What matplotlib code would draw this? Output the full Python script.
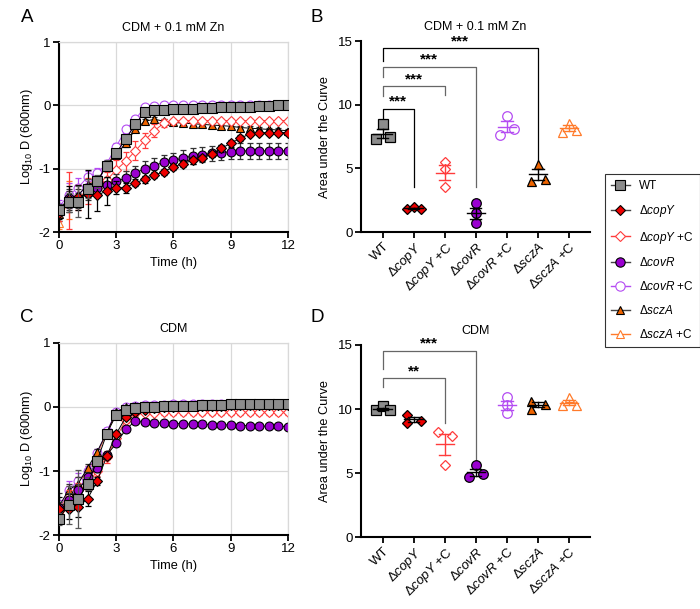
import numpy as np
import matplotlib
matplotlib.use('Agg')
import matplotlib.pyplot as plt
from matplotlib.lines import Line2D

plt.rcParams['font.family'] = 'Liberation Sans'
plt.rcParams['mathtext.fontset'] = 'custom'
plt.rcParams['mathtext.rm'] = 'Liberation Sans'
plt.rcParams['mathtext.it'] = 'Liberation Sans:italic'
plt.rcParams['axes.unicode_minus'] = False

# ---- data ----
time = np.arange(0, 12.5, 0.5)

strains = ['WT', 'copY', 'copY+C', 'covR', 'covR+C', 'sczA', 'sczA+C']
labels = ['WT', r'$\Delta\mathit{copY}$', r'$\Delta\mathit{copY}$ +C', r'$\Delta\mathit{covR}$',
          r'$\Delta\mathit{covR}$ +C', r'$\Delta\mathit{sczA}$', r'$\Delta\mathit{sczA}$ +C']

# Panel A: CDM + 0.1 mM Zn (log10 OD600)
zn_wt = [-1.65, -1.53, -1.52, -1.32, -1.2, -0.95, -0.75, -0.53, -0.3, -0.1, -0.08, -0.07, -0.06,
         -0.05, -0.05, -0.04, -0.04, -0.03, -0.03, -0.02, -0.02, -0.01, -0.01, 0.0, 0.0]
zn_copy = [-1.7, -1.48, -1.45, -1.4, -1.42, -1.35, -1.3, -1.3, -1.22, -1.17, -1.1, -1.05, -0.97,
           -0.92, -0.87, -0.83, -0.77, -0.68, -0.6, -0.52, -0.45, -0.43, -0.43, -0.43, -0.43]
zn_copyc = [-1.7, -1.5, -1.45, -1.35, -1.3, -1.18, -1.02, -0.88, -0.72, -0.55, -0.4, -0.28, -0.25,
            -0.24, -0.24, -0.24, -0.24, -0.24, -0.24, -0.24, -0.24, -0.24, -0.24, -0.24, -0.24]
zn_covr = [-1.65, -1.47, -1.5, -1.38, -1.3, -1.25, -1.2, -1.15, -1.07, -1.0, -0.95, -0.9, -0.87,
           -0.83, -0.8, -0.78, -0.76, -0.75, -0.73, -0.72, -0.72, -0.72, -0.72, -0.72, -0.72]
zn_covrc = [-1.6, -1.42, -1.3, -1.13, -1.07, -0.92, -0.65, -0.38, -0.22, -0.03, -0.01, 0.0, 0.0,
            0.0, 0.0, 0.0, 0.0, 0.0, 0.0, 0.0, 0.0, 0.0, 0.0, 0.0, 0.0]
zn_scza = [-1.72, -1.5, -1.42, -1.25, -1.2, -0.95, -0.78, -0.6, -0.38, -0.25, -0.22, -0.25, -0.27,
           -0.28, -0.29, -0.3, -0.31, -0.32, -0.33, -0.35, -0.36, -0.37, -0.38, -0.39, -0.4]
zn_sczac = [-1.85, -1.5, -1.4, -1.25, -1.15, -0.95, -0.72, -0.48, -0.28, -0.08, -0.07, -0.06, -0.05,
            -0.05, -0.04, -0.04, -0.03, -0.03, -0.02, -0.02, -0.01, -0.01, 0.0, 0.0, 0.0]

zn_wt_err = [0.08, 0.15, 0.25, 0.15, 0.1, 0.08, 0.06, 0.05, 0.04, 0.03, 0.03, 0.02, 0.02,
             0.02, 0.02, 0.02, 0.02, 0.02, 0.02, 0.02, 0.02, 0.02, 0.02, 0.02, 0.02]
zn_copy_err = [0.1, 0.2, 0.2, 0.38, 0.25, 0.22, 0.1, 0.08, 0.06, 0.05, 0.05, 0.05, 0.05,
               0.05, 0.05, 0.05, 0.05, 0.05, 0.05, 0.05, 0.04, 0.04, 0.04, 0.04, 0.04]
zn_copyc_err = [0.12, 0.45, 0.2, 0.2, 0.15, 0.12, 0.15, 0.15, 0.15, 0.12, 0.1, 0.06, 0.03,
                0.02, 0.02, 0.02, 0.02, 0.02, 0.02, 0.02, 0.02, 0.02, 0.02, 0.02, 0.02]
zn_covr_err = [0.1, 0.15, 0.12, 0.12, 0.12, 0.12, 0.12, 0.12, 0.12, 0.12, 0.12, 0.12, 0.12,
               0.12, 0.12, 0.12, 0.12, 0.12, 0.12, 0.12, 0.12, 0.12, 0.12, 0.12, 0.12]
zn_covrc_err = [0.1, 0.2, 0.15, 0.1, 0.08, 0.06, 0.05, 0.05, 0.03, 0.02, 0.02, 0.02, 0.02,
                0.02, 0.02, 0.02, 0.02, 0.02, 0.02, 0.02, 0.02, 0.02, 0.02, 0.02, 0.02]
zn_scza_err = [0.1, 0.15, 0.1, 0.08, 0.06, 0.05, 0.05, 0.05, 0.04, 0.03, 0.03, 0.03, 0.03,
               0.03, 0.03, 0.03, 0.03, 0.03, 0.03, 0.03, 0.03, 0.03, 0.03, 0.03, 0.03]
zn_sczac_err = [0.1, 0.3, 0.15, 0.1, 0.08, 0.06, 0.05, 0.05, 0.04, 0.03, 0.02, 0.02, 0.02,
                0.02, 0.02, 0.02, 0.02, 0.02, 0.02, 0.02, 0.02, 0.02, 0.02, 0.02, 0.02]

# Panel C: CDM (log10 OD600)
cdm_wt = [-1.75, -1.53, -1.44, -1.2, -0.84, -0.42, -0.12, -0.04, -0.02, 0.0, 0.0, 0.01, 0.02,
          0.02, 0.02, 0.03, 0.03, 0.03, 0.04, 0.04, 0.04, 0.04, 0.05, 0.05, 0.05]
cdm_copy = [-1.6, -1.6, -1.57, -1.43, -1.16, -0.77, -0.42, -0.16, -0.08, -0.05, -0.02, 0.0, 0.0,
            0.01, 0.01, 0.02, 0.02, 0.02, 0.03, 0.03, 0.03, 0.03, 0.03, 0.03, 0.03]
cdm_copyc = [-1.62, -1.45, -1.3, -1.2, -1.0, -0.78, -0.48, -0.2, -0.1, -0.09, -0.09, -0.08, -0.08,
             -0.08, -0.08, -0.08, -0.08, -0.08, -0.08, -0.08, -0.08, -0.08, -0.08, -0.08, -0.08]
cdm_covr = [-1.58, -1.45, -1.3, -1.1, -0.95, -0.75, -0.57, -0.35, -0.22, -0.24, -0.25, -0.25, -0.26,
            -0.26, -0.27, -0.27, -0.28, -0.28, -0.28, -0.29, -0.29, -0.3, -0.3, -0.3, -0.31]
cdm_covrc = [-1.6, -1.3, -1.15, -1.0, -0.72, -0.38, -0.08, 0.0, 0.02, 0.03, 0.03, 0.03, 0.04,
             0.04, 0.04, 0.04, 0.04, 0.04, 0.04, 0.04, 0.04, 0.04, 0.04, 0.04, 0.04]
cdm_scza = [-1.55, -1.3, -1.2, -0.95, -0.7, -0.4, -0.08, 0.0, 0.01, 0.02, 0.02, 0.03, 0.03,
            0.03, 0.03, 0.04, 0.04, 0.04, 0.04, 0.04, 0.04, 0.04, 0.04, 0.04, 0.04]
cdm_sczac = [-1.6, -1.35, -1.2, -1.0, -0.75, -0.4, -0.1, -0.02, 0.0, 0.01, 0.02, 0.02, 0.03,
             0.03, 0.03, 0.03, 0.04, 0.04, 0.04, 0.04, 0.04, 0.04, 0.04, 0.04, 0.04]

cdm_wt_err = [0.1, 0.3, 0.45, 0.1, 0.05, 0.04, 0.03, 0.02, 0.02, 0.02, 0.02, 0.02, 0.02,
              0.02, 0.02, 0.02, 0.02, 0.02, 0.02, 0.02, 0.02, 0.02, 0.02, 0.02, 0.02]
cdm_copy_err = [0.2, 0.15, 0.15, 0.12, 0.06, 0.05, 0.04, 0.03, 0.02, 0.02, 0.02, 0.02, 0.02,
                0.02, 0.02, 0.02, 0.02, 0.02, 0.02, 0.02, 0.02, 0.02, 0.02, 0.02, 0.02]
cdm_copyc_err = [0.1, 0.15, 0.12, 0.1, 0.08, 0.1, 0.08, 0.05, 0.04, 0.04, 0.04, 0.04, 0.04,
                 0.04, 0.04, 0.04, 0.04, 0.04, 0.04, 0.04, 0.04, 0.04, 0.04, 0.05, 0.05]
cdm_covr_err = [0.1, 0.1, 0.1, 0.08, 0.06, 0.05, 0.04, 0.03, 0.02, 0.02, 0.02, 0.02, 0.02,
                0.02, 0.02, 0.02, 0.02, 0.02, 0.02, 0.02, 0.02, 0.02, 0.02, 0.02, 0.02]
cdm_covrc_err = [0.15, 0.15, 0.12, 0.08, 0.06, 0.05, 0.03, 0.02, 0.02, 0.02, 0.02, 0.02, 0.02,
                 0.02, 0.02, 0.02, 0.02, 0.02, 0.02, 0.02, 0.02, 0.02, 0.02, 0.02, 0.02]
cdm_scza_err = [0.2, 0.1, 0.1, 0.06, 0.05, 0.04, 0.03, 0.02, 0.02, 0.02, 0.02, 0.02, 0.02,
                0.02, 0.02, 0.02, 0.02, 0.02, 0.02, 0.02, 0.02, 0.02, 0.02, 0.02, 0.02]
cdm_sczac_err = [0.1, 0.12, 0.1, 0.08, 0.05, 0.04, 0.03, 0.02, 0.02, 0.02, 0.02, 0.02, 0.02,
                 0.02, 0.02, 0.02, 0.02, 0.02, 0.02, 0.02, 0.02, 0.02, 0.02, 0.02, 0.02]

# Panel B: AUC, CDM + 0.1 mM Zn (3 replicates)
auc_zn = [[7.28, 8.48, 7.44], [1.78, 1.99, 1.78], [5.52, 4.92, 3.51], [2.25, 1.47, 0.68],
          [7.62, 9.11, 8.07], [4.03, 5.34, 4.19], [7.83, 8.59, 8.01]]
# Panel D: AUC, CDM
auc_cdm = [[9.9, 10.2, 9.9], [9.55, 8.9, 9.1], [8.2, 5.65, 7.9], [4.7, 5.6, 4.9],
           [10.9, 10.3, 9.7], [10.6, 10.0, 10.4], [10.3, 10.9, 10.3]]

# significance: (target index, bracket height, WT leg bottom, target leg bottom, label)
sig_zn = [(1, 9.69, 8.85, 3.5, '***'), (2, 11.44, 10.7, 10.8, '***'),
          (3, 12.99, 12.2, 3.5, '***'), (5, 14.43, 13.4, 5.4, '***')]
sig_cdm = [(2, 12.4, 11.7, 8.9, '**'), (3, 14.55, 13.1, 6.05, '***')]

# ---- styles ----
GRAY = '#8c8c8c'
RED = '#ee0000'
RED_L = '#ff3b3b'
PURPLE = '#9a00d0'
PURPLE_L = '#b44cf2'
ORANGE = '#f06400'
ORANGE_L = '#ff7a2a'

styles = [
    dict(marker='s', mfc=GRAY, mec='black', lc='black', ec='#555555'),
    dict(marker='D', mfc=RED, mec='black', lc='black', ec='black'),
    dict(marker='D', mfc='white', mec=RED_L, lc=RED_L, ec=RED_L),
    dict(marker='o', mfc=PURPLE, mec='black', lc='black', ec='#333333'),
    dict(marker='o', mfc='white', mec=PURPLE_L, lc=PURPLE_L, ec=PURPLE_L),
    dict(marker='^', mfc=ORANGE, mec='black', lc='black', ec='#333333'),
    dict(marker='^', mfc='white', mec=ORANGE_L, lc=ORANGE_L, ec=ORANGE_L),
]
msize = {'s': 6.5, 'D': 4.7, 'o': 6.4, '^': 6.0}
mean_err = ['black', 'black', RED_L, 'black', PURPLE_L, 'black', ORANGE_L]

fig = plt.figure(figsize=(7, 6.09), dpi=100)
axA = fig.add_axes([0.0843, 0.619, 0.327, 0.312])
axB = fig.add_axes([0.5157, 0.619, 0.327, 0.3136])
axC = fig.add_axes([0.0843, 0.1215, 0.327, 0.3153])
axD = fig.add_axes([0.5157, 0.1182, 0.327, 0.3153])

zn_series = [zn_wt, zn_copy, zn_copyc, zn_covr, zn_covrc, zn_scza, zn_sczac]
zn_errs = [zn_wt_err, zn_copy_err, zn_copyc_err, zn_covr_err, zn_covrc_err, zn_scza_err, zn_sczac_err]
cdm_series = [cdm_wt, cdm_copy, cdm_copyc, cdm_covr, cdm_covrc, cdm_scza, cdm_sczac]
cdm_errs = [cdm_wt_err, cdm_copy_err, cdm_copyc_err, cdm_covr_err, cdm_covrc_err, cdm_scza_err, cdm_sczac_err]

draw_order = [6, 4, 5, 2, 3, 1, 0]
FS = 9.2


def growth_panel(ax, series, errs, title):
    for k, i in enumerate(draw_order):
        st = styles[i]
        ax.errorbar(time, series[i], yerr=errs[i], fmt='none', ecolor=st['ec'],
                    elinewidth=0.9, capsize=2.2, capthick=0.9, zorder=2 + k * 0.1)
        ax.plot(time, series[i], color=st['lc'], lw=0.7, marker=st['marker'],
                ms=msize[st['marker']], mfc=st['mfc'], mec=st['mec'], mew=0.8,
                zorder=2.05 + k * 0.1)
    ax.set_xlim(0, 12)
    ax.set_ylim(-2, 1)
    ax.set_xticks([0, 3, 6, 9, 12])
    ax.set_yticks([-2, -1, 0, 1])
    ax.grid(True, color='#d9d9d9', lw=0.9)
    ax.set_axisbelow(True)
    for s in ['top', 'right']:
        ax.spines[s].set_color('#d9d9d9')
        ax.spines[s].set_linewidth(0.9)
    for s in ['left', 'bottom']:
        ax.spines[s].set_linewidth(1.5)
    ax.tick_params(direction='out', length=4, width=1.3, pad=2, labelsize=9.5)
    ax.set_xlabel('Time (h)', fontsize=FS, labelpad=3)
    ax.set_ylabel(r'Log$_{10}$ D (600nm)', fontsize=FS, labelpad=3)
    ax.set_title(title, fontsize=9, pad=8)


def auc_panel(ax, values, jitter, sig, title):
    x = np.arange(len(values))
    for i, vals in enumerate(values):
        st = styles[i]
        vals = np.array(vals)
        m = vals.mean()
        sem = vals.std(ddof=1) / np.sqrt(len(vals))
        ax.plot(x[i] + np.array(jitter[i]), vals, ls='none', marker=st['marker'],
                ms=msize[st['marker']] * 1.08, mfc=st['mfc'], mec=st['mec'], mew=0.9, zorder=3)
        c = mean_err[i]
        ax.plot([x[i] - 0.3, x[i] + 0.3], [m, m], color=c, lw=1.0, zorder=4)
        ax.plot([x[i], x[i]], [m - sem, m + sem], color=c, lw=1.0, zorder=4)
        for v in (m - sem, m + sem):
            ax.plot([x[i] - 0.18, x[i] + 0.18], [v, v], color=c, lw=1.0, zorder=4)
    for t, h, lo0, lo1, lab in sig:
        col = 'black' if lo1 < 6 and t != 3 else '#666666'
        ax.plot([0, 0, t, t], [lo0, h, h, lo1], color=col, lw=0.9, zorder=1)
        ax.text(t / 2, h + 0.55, lab, ha='center', va='center', fontsize=11,
                fontweight='bold')
    ax.set_xlim(-0.70, 6.67)
    ax.set_ylim(0, 15)
    ax.set_yticks([0, 5, 10, 15])
    ax.set_xticks(x)
    ax.set_xticklabels(labels, rotation=45, ha='right', rotation_mode='anchor')
    for s in ['top', 'right']:
        ax.spines[s].set_visible(False)
    for s in ['left', 'bottom']:
        ax.spines[s].set_linewidth(1.5)
    ax.tick_params(direction='out', length=4, width=1.3, pad=2, labelsize=9.5)
    ax.set_ylabel('Area under the Curve', fontsize=FS, labelpad=5)
    ax.set_title(title, fontsize=9, pad=8)


jit_zn = [[-0.23, 0, 0.23], [-0.23, 0, 0.23], [0, 0, 0], [0, 0, 0],
          [-0.23, 0, 0.23], [-0.23, 0, 0.23], [-0.23, 0, 0.23]]
jit_cdm = [[-0.23, 0, 0.23], [-0.23, -0.23, 0.23], [-0.23, 0, 0.23], [-0.23, 0, 0.23],
           [0, 0, 0], [-0.23, -0.23, 0.23], [-0.23, 0, 0.23]]

growth_panel(axA, zn_series, zn_errs, 'CDM + 0.1 mM Zn')
auc_panel(axB, auc_zn, jit_zn, sig_zn, 'CDM + 0.1 mM Zn')
growth_panel(axC, cdm_series, cdm_errs, 'CDM')
auc_panel(axD, auc_cdm, jit_cdm, sig_cdm, 'CDM')

for lab, (px, py) in zip('ABCD', [(27, 17), (317, 17), (27, 317), (317, 317)]):
    fig.text(px / 700, 1 - py / 609, lab, fontsize=13.5, ha='center', va='center')

handles = []
for st in styles:
    handles.append(Line2D([], [], color=st['lc'] if st['lc'] != 'black' else '#444444', lw=1.0,
                          marker=st['marker'], ms=msize[st['marker']] * 1.05,
                          mfc=st['mfc'], mec=st['mec'], mew=0.8))
leg = fig.legend(handles, labels, loc='upper left', bbox_to_anchor=(605 / 700, 1 - 174 / 609),
                 borderaxespad=0, fontsize=8.5, frameon=True, fancybox=False,
                 edgecolor='black', handlelength=1.6, labelspacing=0.92, handletextpad=0.8,
                 borderpad=0.5)
leg.get_frame().set_linewidth(0.8)

fig.savefig('out.png', dpi=100)
